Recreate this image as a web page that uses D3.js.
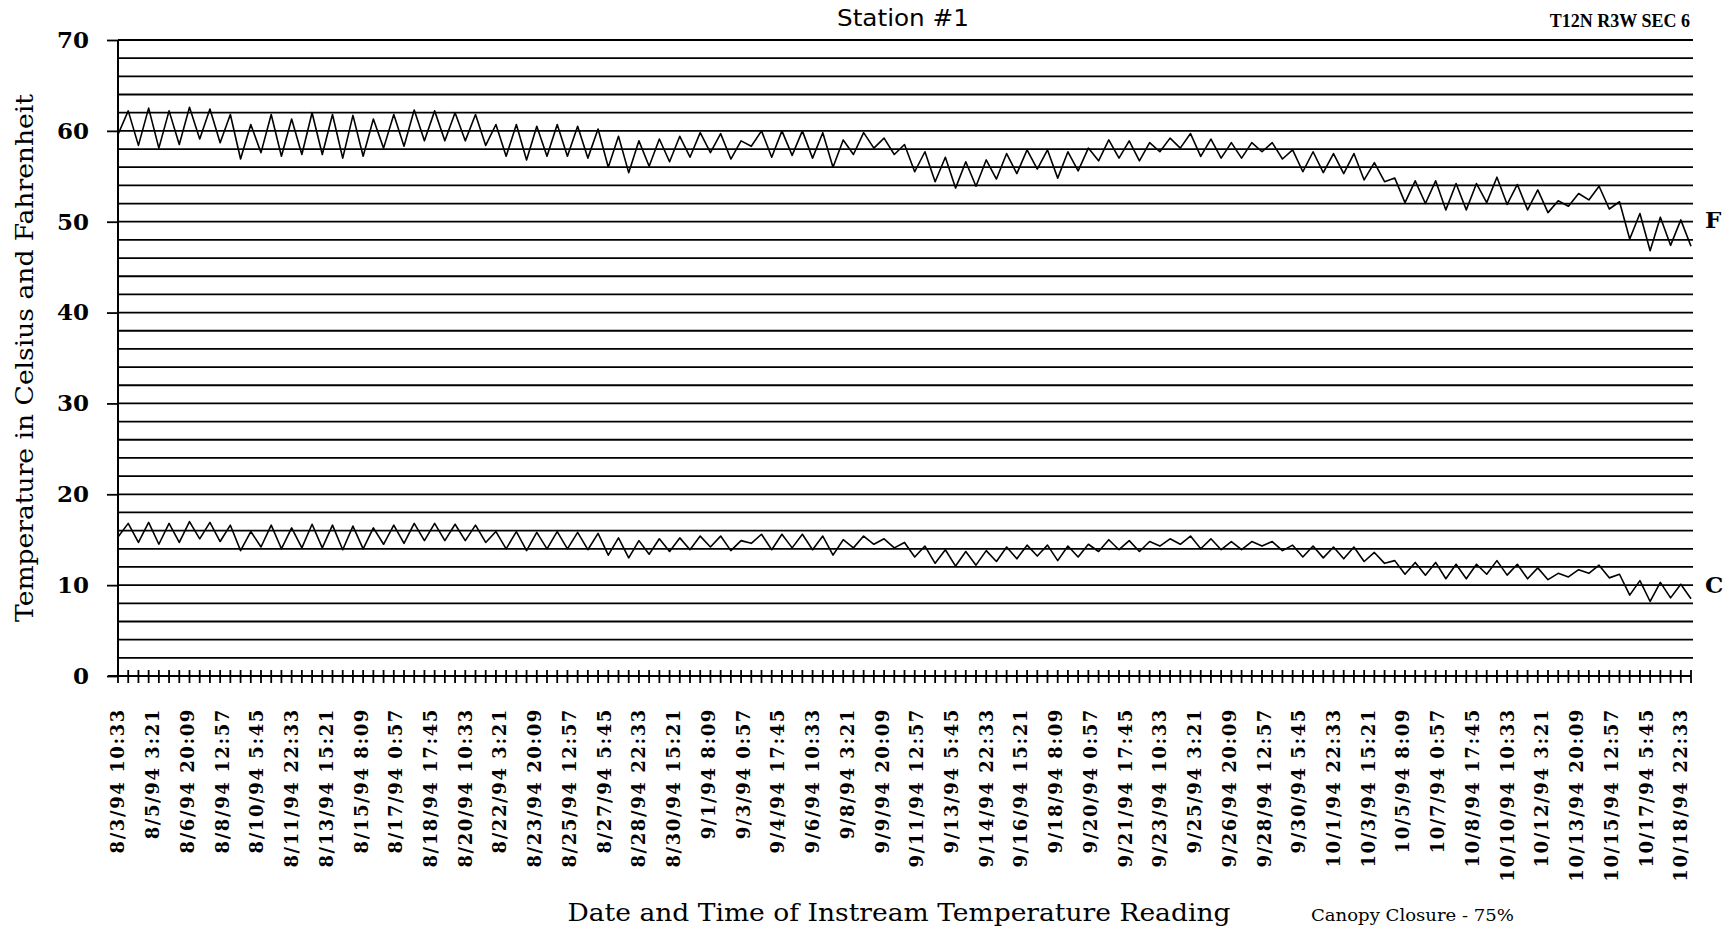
<!DOCTYPE html>
<html>
<head>
<meta charset="utf-8">
<script src="https://cdn.jsdelivr.net/npm/d3@7"></script>
<style>
  html, body { margin: 0; padding: 0; background: #fff; }
  svg { display: block; }
</style>
</head>
<body>
<div id="graph"></div>
<script>
// DATA
// Logger readings plotted every 12 hours, starting at the first time stamp
const readingStart = "8/3/94 10:33"
const readingStepHours = 12

// Instream temperature, degrees Fahrenheit
const fahrenheit = [
  59.6, 62.2, 58.4, 62.5, 58.1, 62.2, 58.5, 62.6, 59.1, 62.4,
  58.7, 61.8, 56.9, 60.7, 57.6, 61.8, 57.2, 61.3, 57.4, 62.0,
  57.4, 61.8, 57.0, 61.7, 57.2, 61.3, 58.1, 61.8, 58.3, 62.3,
  58.9, 62.2, 58.9, 62.0, 58.9, 61.8, 58.4, 60.7, 57.2, 60.7,
  56.8, 60.5, 57.2, 60.7, 57.2, 60.5, 57.0, 60.2, 56.0, 59.4,
  55.4, 58.9, 56.1, 59.1, 56.6, 59.4, 57.1, 59.8, 57.6, 59.7,
  56.9, 58.9, 58.3, 60.0, 57.1, 60.0, 57.3, 60.0, 57.0, 59.8,
  56.0, 59.0, 57.4, 59.8, 58.1, 59.2, 57.4, 58.5, 55.5, 57.7,
  54.4, 57.1, 53.7, 56.6, 53.9, 56.8, 54.7, 57.5, 55.3, 57.9,
  55.8, 57.9, 54.8, 57.7, 55.6, 58.1, 56.7, 59.0, 57.0, 58.9,
  56.7, 58.7, 57.7, 59.2, 58.1, 59.7, 57.2, 59.1, 57.0, 58.7,
  57.0, 58.7, 57.7, 58.7, 56.9, 57.9, 55.5, 57.7, 55.4, 57.5,
  55.3, 57.5, 54.6, 56.5, 54.4, 54.8, 52.1, 54.5, 52.0, 54.5,
  51.3, 54.2, 51.3, 54.2, 52.1, 54.9, 51.9, 54.1, 51.3, 53.5,
  51.0, 52.3, 51.7, 53.1, 52.4, 53.9, 51.4, 52.2, 48.1, 50.9,
  46.8, 50.5, 47.4, 50.2, 47.3
]

// Same readings, degrees Celsius
const celsius = [
  15.3, 16.8, 14.7, 16.9, 14.5, 16.8, 14.7, 17.0, 15.1, 16.9,
  14.8, 16.6, 13.8, 15.9, 14.2, 16.6, 14.0, 16.3, 14.1, 16.7,
  14.1, 16.6, 13.9, 16.5, 14.0, 16.3, 14.5, 16.6, 14.6, 16.8,
  14.9, 16.8, 14.9, 16.7, 14.9, 16.6, 14.7, 15.9, 14.0, 15.9,
  13.8, 15.8, 14.0, 15.9, 14.0, 15.8, 13.9, 15.7, 13.3, 15.2,
  13.0, 14.9, 13.4, 15.1, 13.7, 15.2, 13.9, 15.4, 14.2, 15.4,
  13.8, 14.9, 14.6, 15.6, 13.9, 15.6, 14.1, 15.6, 13.9, 15.4,
  13.3, 15.0, 14.1, 15.4, 14.5, 15.1, 14.1, 14.7, 13.1, 14.3,
  12.4, 13.9, 12.1, 13.7, 12.2, 13.8, 12.6, 14.2, 12.9, 14.4,
  13.2, 14.4, 12.7, 14.3, 13.1, 14.5, 13.7, 15.0, 13.9, 14.9,
  13.7, 14.8, 14.3, 15.1, 14.5, 15.4, 14.0, 15.1, 13.9, 14.8,
  13.9, 14.8, 14.3, 14.8, 13.8, 14.4, 13.1, 14.3, 13.0, 14.2,
  12.9, 14.2, 12.6, 13.6, 12.4, 12.7, 11.2, 12.5, 11.1, 12.5,
  10.7, 12.3, 10.7, 12.3, 11.2, 12.7, 11.1, 12.3, 10.7, 11.9,
  10.6, 11.3, 10.9, 11.7, 11.3, 12.2, 10.8, 11.2, 8.9, 10.5,
  8.2, 10.3, 8.6, 10.1, 8.5
]

// Category labels along the bottom axis
const dateLabels = [
  "8/3/94 10:33", "8/5/94 3:21", "8/6/94 20:09", "8/8/94 12:57", "8/10/94 5:45",
  "8/11/94 22:33", "8/13/94 15:21", "8/15/94 8:09", "8/17/94 0:57", "8/18/94 17:45",
  "8/20/94 10:33", "8/22/94 3:21", "8/23/94 20:09", "8/25/94 12:57", "8/27/94 5:45",
  "8/28/94 22:33", "8/30/94 15:21", "9/1/94 8:09", "9/3/94 0:57", "9/4/94 17:45",
  "9/6/94 10:33", "9/8/94 3:21", "9/9/94 20:09", "9/11/94 12:57", "9/13/94 5:45",
  "9/14/94 22:33", "9/16/94 15:21", "9/18/94 8:09", "9/20/94 0:57", "9/21/94 17:45",
  "9/23/94 10:33", "9/25/94 3:21", "9/26/94 20:09", "9/28/94 12:57", "9/30/94 5:45",
  "10/1/94 22:33", "10/3/94 15:21", "10/5/94 8:09", "10/7/94 0:57", "10/8/94 17:45",
  "10/10/94 10:33", "10/12/94 3:21", "10/13/94 20:09", "10/15/94 12:57", "10/17/94 5:45",
  "10/18/94 22:33"
]

// Temperature scale
const yTickLabels = [0, 10, 20, 30, 40, 50, 60, 70]
const gridStep = 2

const seriesNames = ["F", "C"]


// CHART SETUP
const width = 1727
const height = 933
const margin = { top: 40, right: 34, bottom: 257, left: 118 }
const plotRight = width - margin.right - 2   // last reading
const plotBottom = height - margin.bottom

const parseTime = d3.utcParse("%m/%d/%y %H:%M")
const start = parseTime(readingStart)

const readings = fahrenheit.map((f, i) => ({
  time: d3.utcHour.offset(start, i * readingStepHours),
  f: f,
  c: celsius[i]
}))

const svg = d3.select("#graph").append("svg")
  .attr("width", width)
  .attr("height", height)
  .attr("viewBox", `0 0 ${width} ${height}`)

const xScale = d3.scaleUtc()
  .domain([start, readings[readings.length - 1].time])
  .range([margin.left, plotRight])

const yScale = d3.scaleLinear()
  .domain([0, 70])
  .range([plotBottom, margin.top])

const serif = "'DejaVu Serif', 'Liberation Serif', serif"
const sans = "'DejaVu Sans', 'Liberation Sans', sans-serif"


// Horizontal rules every 2 degrees
const gridValues = d3.range(gridStep, 70 + gridStep, gridStep)
svg.append("g").attr("class", "grid")
  .selectAll("line").data(gridValues).enter()
  .append("line")
    .attr("x1", margin.left)
    .attr("x2", width - margin.right)
    .attr("y1", d => yScale(d))
    .attr("y2", d => yScale(d))
    .attr("stroke", "#000")
    .attr("stroke-width", 1.8)

// Left axis with outward ticks at each 10 degrees
const yAxis = svg.append("g").attr("class", "yAxis")
  .attr("transform", `translate(${margin.left}, 0)`)
  .call(d3.axisLeft(yScale).tickValues(yTickLabels).tickSize(11).tickPadding(18).tickFormat(d3.format("d")))
yAxis.select(".domain").attr("stroke", "#000").attr("stroke-width", 2).attr("d", `M0,${yScale(70)}V${yScale(0)}`)
yAxis.selectAll(".tick line").attr("stroke", "#000").attr("stroke-width", 1.8)
yAxis.selectAll(".tick text")
  .attr("font-family", serif)
  .attr("font-size", 23)
  .attr("font-weight", "bold")
  .attr("fill", "#000")

// Bottom axis: one cross tick per reading
const xAxis = svg.append("g").attr("class", "xAxis")
xAxis.append("line")
  .attr("x1", margin.left - 10)
  .attr("x2", plotRight)
  .attr("y1", plotBottom)
  .attr("y2", plotBottom)
  .attr("stroke", "#000")
  .attr("stroke-width", 2)
xAxis.selectAll(".cross").data(readings).enter()
  .append("line")
    .attr("class", "cross")
    .attr("x1", d => xScale(d.time))
    .attr("x2", d => xScale(d.time))
    .attr("y1", plotBottom - 6)
    .attr("y2", plotBottom + 7)
    .attr("stroke", "#000")
    .attr("stroke-width", 1.8)

// Rotated date labels, every 17th logger reading
xAxis.selectAll(".date").data(dateLabels).enter()
  .append("text")
    .attr("class", "date")
    .attr("transform", d => `translate(${xScale(parseTime(d))}, ${plotBottom + 32}) rotate(-90)`)
    .attr("text-anchor", "end")
    .attr("dy", "0.36em")
    .attr("font-family", serif)
    .attr("font-size", 18)
    .attr("font-weight", "bold")
    .attr("letter-spacing", 1.6)
    .attr("fill", "#000")
    .text(d => d)


// Temperature traces
const lineF = d3.line()
  .x(d => xScale(d.time))
  .y(d => yScale(d.f))

const lineC = d3.line()
  .x(d => xScale(d.time))
  .y(d => yScale(d.c))

svg.append("path")
  .attr("class", "graph-line")
  .attr("d", lineF(readings))
  .attr("fill", "none")
  .attr("stroke", "#000")
  .attr("stroke-width", 1.6)
  .attr("stroke-linejoin", "round")

svg.append("path")
  .attr("class", "graph-line")
  .attr("d", lineC(readings))
  .attr("fill", "none")
  .attr("stroke", "#000")
  .attr("stroke-width", 1.6)
  .attr("stroke-linejoin", "round")

// Series letters at the right-hand end of each trace
svg.selectAll(".series-name").data(seriesNames).enter()
  .append("text")
    .attr("class", "series-name")
    .attr("x", width - margin.right + 12)
    .attr("y", d => d == "F" ? yScale(50.2) : yScale(10.1))
    .attr("dy", "0.36em")
    .attr("font-family", serif)
    .attr("font-weight", "bold")
    .attr("font-size", 23)
    .text(d => d)


// Titles and notes
svg.append("text")
  .attr("x", 903).attr("y", 26)
  .attr("text-anchor", "middle")
  .attr("font-family", sans)
  .attr("font-size", 23)
  .attr("textLength", 132)
  .attr("lengthAdjust", "spacingAndGlyphs")
  .text("Station #1")

svg.append("text")
  .attr("x", width - margin.right - 3).attr("y", 27)
  .attr("text-anchor", "end")
  .attr("font-family", "'Liberation Serif', 'DejaVu Serif', serif")
  .attr("font-weight", "bold")
  .attr("font-size", 18)
  .text("T12N R3W SEC 6")

svg.append("text")
  .attr("transform", `translate(24, 358) rotate(-90)`)
  .attr("text-anchor", "middle")
  .attr("dy", "0.36em")
  .attr("font-family", serif)
  .attr("font-size", 25)
  .attr("textLength", 528)
  .attr("lengthAdjust", "spacingAndGlyphs")
  .text("Temperature in Celsius and Fahrenheit")

svg.append("text")
  .attr("x", 899).attr("y", 921)
  .attr("text-anchor", "middle")
  .attr("font-family", serif)
  .attr("font-size", 25)
  .attr("textLength", 663)
  .attr("lengthAdjust", "spacingAndGlyphs")
  .text("Date and Time of Instream Temperature Reading")

svg.append("text")
  .attr("x", 1311).attr("y", 921)
  .attr("font-family", serif)
  .attr("font-size", 17)
  .attr("textLength", 203)
  .attr("lengthAdjust", "spacingAndGlyphs")
  .text("Canopy Closure - 75%")
</script>
</body>
</html>
